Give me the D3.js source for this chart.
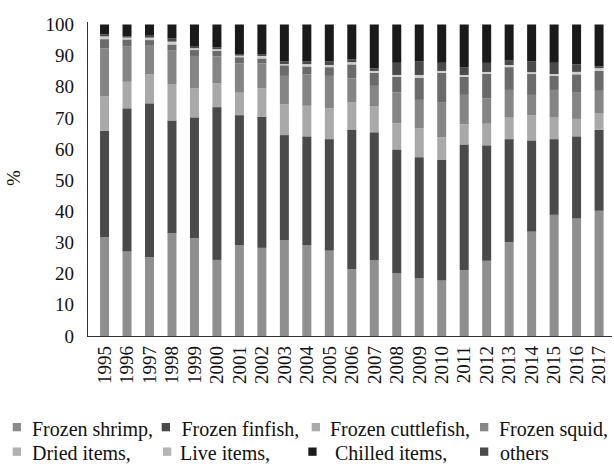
<!DOCTYPE html>
<html>
<head>
<meta charset="utf-8">
<script src="https://cdn.jsdelivr.net/npm/d3@7"></script>
<style>
  html, body { margin: 0; padding: 0; background: #fff; }
</style>
</head>
<body>
<svg id="chart" width="614" height="469"></svg>
<script>
const years = ["1995","1996","1997","1998","1999","2000","2001","2002","2003","2004","2005","2006","2007","2008","2009","2010","2011","2012","2013","2014","2015","2016","2017"];

const frozenShrimp     = [31.7, 27.1, 25.3, 33.0, 31.4, 24.4, 29.1, 28.3, 30.8, 29.1, 27.4, 21.4, 24.4, 20.1, 18.5, 17.8, 21.1, 24.1, 30.1, 33.5, 38.9, 37.7, 40.2];
const frozenFinfish    = [34.2, 46.0, 49.4, 36.2, 38.8, 49.0, 41.8, 42.1, 33.7, 35.0, 35.8, 44.9, 41.0, 39.8, 38.9, 38.7, 40.4, 37.0, 33.1, 29.3, 24.3, 26.4, 26.0];
const frozenCuttlefish = [11.1,  8.5,  9.4, 11.5,  9.3,  7.7,  7.2,  9.1,  9.9,  9.8,  9.9,  8.8,  8.4,  8.4,  9.3,  7.3,  6.5,  6.9,  6.9,  8.1,  6.9,  5.6,  5.2];
const frozenSquid      = [15.3, 11.3,  9.3, 10.9, 10.4,  8.6,  9.4,  8.0,  9.1, 10.1, 10.4,  7.6,  6.5,  9.9,  9.1, 11.1,  9.4,  8.1,  8.9,  6.5,  8.9,  8.4,  7.3];
const driedItems       = [ 3.0,  2.3,  1.6,  2.0,  1.9,  1.8,  2.0,  1.6,  3.4,  2.5,  2.8,  4.5,  4.2,  5.0,  7.1,  9.6,  5.8,  7.9,  7.3,  6.7,  4.5,  5.9,  6.4];
const liveItems        = [ 0.9,  0.6,  0.8,  0.9,  0.6,  0.5,  0.5,  0.8,  0.4,  0.8,  0.7,  0.7,  0.6,  0.6,  0.9,  0.6,  0.6,  0.6,  0.7,  0.6,  0.6,  0.8,  0.9];
const chilledItems     = [ 3.2,  3.8,  3.6,  4.5,  6.9,  7.3,  9.5,  9.5, 11.9, 11.9, 11.9, 11.2, 14.1, 12.3, 11.9, 12.3, 13.7, 12.3, 11.6, 11.9, 12.3, 12.8, 13.4];
const others           = [ 0.6,  0.4,  0.6,  1.0,  0.7,  0.6,  0.5,  0.6,  0.8,  0.8,  1.1,  0.9,  0.8,  3.9,  4.3,  2.6,  2.5,  2.9,  1.4,  3.4,  3.6,  2.4,  0.6];

const yTicks = [0, 10, 20, 30, 40, 50, 60, 70, 80, 90, 100];

// legend order
const seriesNames = ["Frozen shrimp,", "Frozen finfish,", "Frozen cuttlefish,", "Frozen squid,", "Dried items,", "Live items,", "Chilled items,", "others"];
const seriesKeys  = ["shrimp", "finfish", "cuttlefish", "squid", "dried", "live", "chilled", "others"];
const seriesValues = [frozenShrimp, frozenFinfish, frozenCuttlefish, frozenSquid, driedItems, liveItems, chilledItems, others];
// stacking order bottom -> top
const stackOrder = ["shrimp", "finfish", "cuttlefish", "squid", "dried", "live", "others", "chilled"];

const barColors = { shrimp: "#8f8f8f", finfish: "#4a4a4a", cuttlefish: "#a9a9a9", squid: "#858585", dried: "#6b6b6b", live: "#cdcdcd", others: "#4a4a4a", chilled: "#1a1a1a" };
const legendColors = { shrimp: "#8c8c8c", finfish: "#4a4a4a", cuttlefish: "#aaaaaa", squid: "#878787", dried: "#b0b0b0", live: "#b4b4b4", chilled: "#1a1a1a", others: "#4a4a4a" };

const FONT = "'Liberation Serif'";

const rows = years.map((yr, i) => {
  const r = { year: yr };
  seriesKeys.forEach((k, j) => r[k] = seriesValues[j][i]);
  return r;
});

const svg = d3.select("#chart");

const x = d3.scaleBand().domain(years).range([93.3, 610.3]).paddingInner(0.6).paddingOuter(0.3);
const y = d3.scaleLinear().domain([0, 1]).range([336, 24.5]);

const stack = d3.stack().keys(stackOrder).offset(d3.stackOffsetExpand);
const layers = stack(rows);

svg.append("g").selectAll("g").data(layers).join("g")
  .attr("fill", d => barColors[d.key])
  .selectAll("rect").data(d => d).join("rect")
  .attr("x", d => x(d.data.year))
  .attr("width", x.bandwidth())
  .attr("y", d => y(d[1]))
  .attr("height", d => y(d[0]) - y(d[1]));

// Y axis
const yAxis = d3.axisLeft(y)
  .tickValues(yTicks.map(v => v / 100))
  .tickFormat(v => String(Math.round(v * 100)))
  .tickSize(0)
  .tickPadding(13);
const gy = svg.append("g").attr("transform", "translate(87,0)").call(yAxis);
gy.attr("font-family", null);
gy.select(".domain").attr("stroke", "#333").attr("stroke-width", 1).attr("d", "M0.5,22V336.5");
gy.selectAll("text").attr("font-size", 19).attr("fill", "#111").style("font-family", FONT);

// X axis
const xAxis = d3.axisBottom(x).tickSize(0).tickSizeOuter(0);
const gx = svg.append("g").attr("transform", "translate(0,336)").call(xAxis);
gx.attr("font-family", null);
gx.select(".domain").attr("stroke", "#333").attr("d", "M87,0.5H612");
gx.selectAll("text")
  .attr("font-size", 19)
  .attr("fill", "#111")
  .style("font-family", FONT)
  .attr("transform", "rotate(-90)")
  .attr("text-anchor", "end")
  .attr("dy", "0.33em")
  .attr("x", -10)
  .attr("y", 0);

// Y label
svg.append("text")
  .attr("transform", "translate(20,178) rotate(-90)")
  .attr("text-anchor", "middle")
  .attr("font-size", 19)
  .attr("fill", "#111")
  .style("font-family", FONT)
  .text("%");

// Legend
const legendPos = [
  { sx: 12.7, tx: 32, row: 0 },
  { sx: 161.7, tx: 181.5, row: 0 },
  { sx: 311.7, tx: 330, row: 0 },
  { sx: 480, tx: 499, row: 0 },
  { sx: 12.7, tx: 32, row: 1 },
  { sx: 163, tx: 180, row: 1 },
  { sx: 308.3, tx: 335, row: 1 },
  { sx: 480, tx: 500, row: 1 }
];
const rowBase = [435.5, 460];
const lg = svg.append("g");
seriesKeys.forEach((k, i) => {
  const p = legendPos[i];
  lg.append("rect")
    .attr("x", p.sx).attr("y", rowBase[p.row] - 12.5)
    .attr("width", 8.3).attr("height", 8.3)
    .attr("fill", legendColors[k]);
  lg.append("text")
    .attr("x", p.tx).attr("y", rowBase[p.row])
    .attr("font-size", 20)
    .attr("fill", "#111")
    .style("font-family", FONT)
    .text(seriesNames[i]);
});
</script>
</body>
</html>
